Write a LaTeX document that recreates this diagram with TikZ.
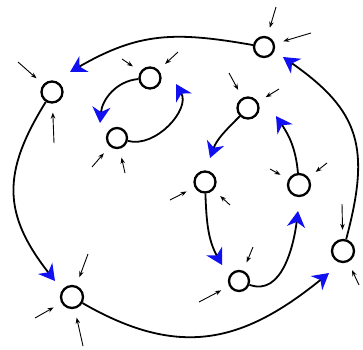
\documentclass[tikz,border=0pt]{standalone}
\usepackage{xcolor}
\usepackage{tikz}
\usetikzlibrary{arrows.meta}
\definecolor{flowblue}{HTML}{1010F0}

\begin{document}
\begin{tikzpicture}[x=1pt,y=-1pt,
  state/.style={circle,draw,line width=2.3pt,minimum size=21pt,inner sep=0pt},
  flow/.style={line width=1.8pt,-{Stealth[length=16pt,width=18pt,inset=5pt,flowblue]}},
  feed/.style={line width=0.9pt,-{Stealth[length=6pt,width=4.5pt]},shorten >=9pt}]
  \useasboundingbox (0,0) rectangle (363,349);

  \node[state] (A) at (52,92) {};
  \node[state,minimum size=20pt] (B) at (264,47) {};
  \node[state] (C) at (150,78) {};
  \node[state,minimum size=20pt] (D) at (117,138) {};
  \node[state] (E) at (248,108) {};
  \node[state] (F) at (205,182) {};
  \node[state,minimum size=22pt] (G) at (299,185) {};
  \node[state,minimum size=20pt] (H) at (239,281) {};
  \node[state,minimum size=22pt] (I) at (72,297) {};
  \node[state,minimum size=22pt] (J) at (343,251) {};

  \coordinate (tA) at ([shift={(18,-20)}]A.center);
  \coordinate (tI) at ([shift={(-17,-16)}]I.center);
  \coordinate (tJ) at ([shift={(-14,22)}]J.center);
  \coordinate (tB) at ([shift={(19,10)}]B.center);
  \coordinate (tD) at ([shift={(-17,-15)}]D.center);
  \coordinate (tC) at ([shift={(26,6)}]C.center);
  \coordinate (tF) at ([shift={(5,-24)}]F.center);
  \coordinate (tH) at ([shift={(-17,-16)}]H.center);
  \coordinate (tG) at ([shift={(-1,26)}]G.center);
  \coordinate (tE) at ([shift={(28,8)}]E.center);

  \draw[flow] (B) to[out=170,in=30,looseness=1.1] (tA);
  \draw[flow] (A) to[out=238,in=128,looseness=1.2] (tI);
  \draw[flow] (I) to[out=-30,in=219,looseness=1.15] (tJ);
  \draw[flow] (J) to[out=75,in=-35,looseness=1.25] (tB);
  \draw[flow] (C) to[out=185,in=85] (tD);
  \draw[flow] (D) to[out=-15,in=-60] (tC);
  \draw[flow] (E) to[out=225,in=70] (tF);
  \draw[flow] (F) to[out=-88,in=119] (tH);
  \draw[flow] (H) to[out=-20,in=-97] (tG);
  \draw[flow] (G) to[out=95,in=-56] (tE);

  \foreach \n/\dx/\dy in {A/-34/-30, A/2/51, C/-28/-19, C/28/-26, D/-25/29,
      D/8/35, B/12/-40, B/47/-14, E/-19/-35, E/31/-19, F/-35/18, F/25/23,
      G/-29/-16, G/28/-22, H/14/-34, H/-40/21, J/-1/-47, J/16/34,
      I/16/-43, I/-37/21, I/11/49}
    \draw[feed] ([shift={(\dx,\dy)}]\n.center) -- (\n);
\end{tikzpicture}
\end{document}
